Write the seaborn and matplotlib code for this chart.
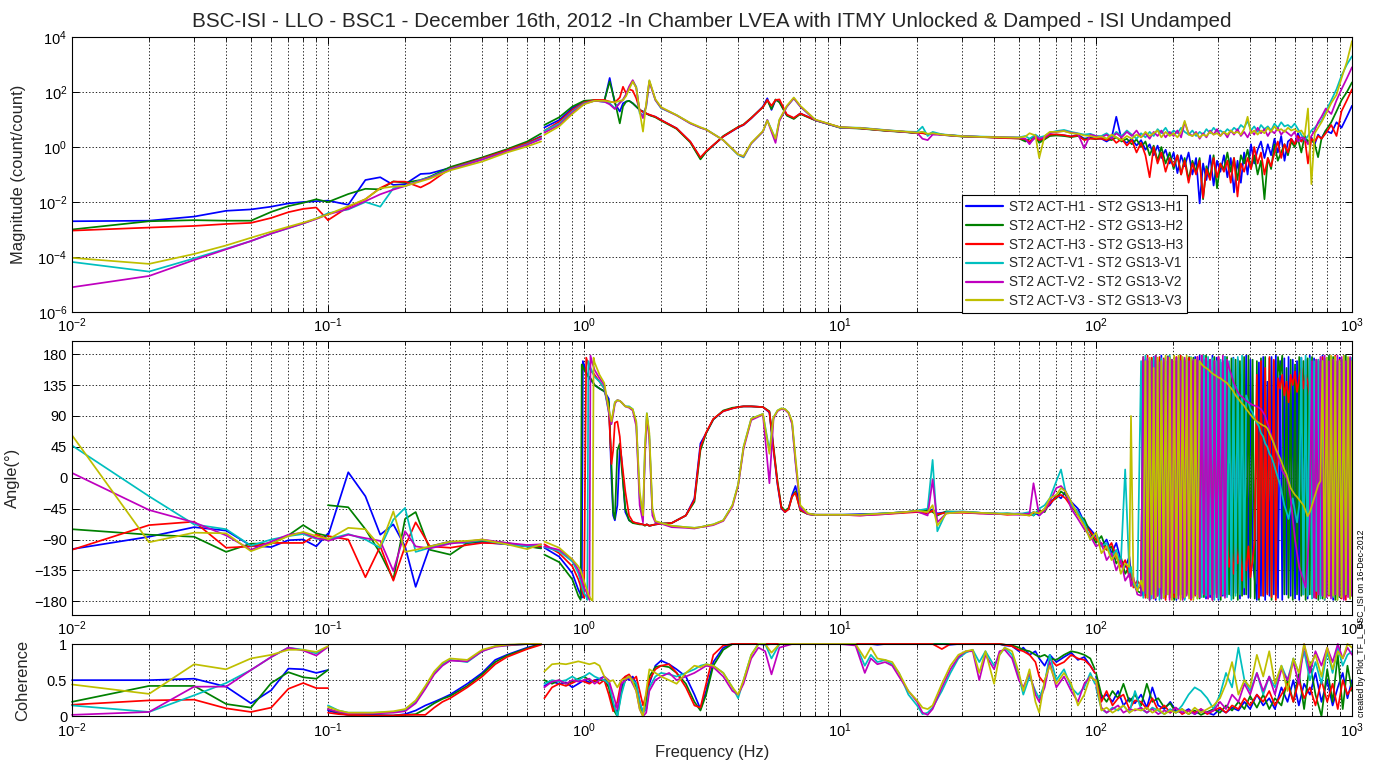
import pandas as pd
import matplotlib
matplotlib.use("Agg")
import matplotlib.pyplot as plt
from matplotlib.lines import Line2D
from matplotlib.ticker import LogLocator, NullLocator, FixedLocator, FixedFormatter
import seaborn as sns

# ---------------------------------------------------------------- series
SERIES = ["ST2 ACT-H1 - ST2 GS13-H1", "ST2 ACT-H2 - ST2 GS13-H2",
          "ST2 ACT-H3 - ST2 GS13-H3", "ST2 ACT-V1 - ST2 GS13-V1",
          "ST2 ACT-V2 - ST2 GS13-V2", "ST2 ACT-V3 - ST2 GS13-V3"]
COLORS = ["#0000ff", "#008000", "#ff0000", "#00bfbf", "#bf00bf", "#bfbf00"]

# ---------------------------------------------------------------- magnitude, log10(count/count)
MAG_F_A = [0.01, 0.02, 0.03, 0.04, 0.05, 0.06, 0.07, 0.08, 0.09, 0.1]
MAG_A_H1 = [-2.70, -2.68, -2.53, -2.32, -2.27, -2.17, -2.05, -2.00, -1.97, -1.95]
MAG_A_H2 = [-3.00, -2.70, -2.66, -2.68, -2.68, -2.36, -2.15, -2.03, -1.90, -2.00]
MAG_A_H3 = [-3.04, -2.93, -2.87, -2.80, -2.76, -2.58, -2.37, -2.25, -2.20, -2.66]
MAG_A_V1 = [-4.18, -4.53, -4.05, -3.70, -3.42, -3.15, -2.95, -2.78, -2.60, -2.41]
MAG_A_V2 = [-5.10, -4.69, -4.11, -3.72, -3.42, -3.15, -2.95, -2.78, -2.62, -2.45]
MAG_A_V3 = [-4.03, -4.25, -3.89, -3.58, -3.30, -3.08, -2.90, -2.75, -2.60, -2.45]

MAG_F_B = [0.1, 0.12, 0.14, 0.16, 0.18, 0.2, 0.23, 0.25, 0.3, 0.4, 0.5, 0.6, 0.68]
MAG_B_H1 = [-1.95, -2.10, -1.20, -1.10, -1.38, -1.35, -0.98, -0.96, -0.76, -0.40, -0.12, 0.15, 0.39]
MAG_B_H2 = [-2.00, -1.71, -1.52, -1.54, -1.25, -1.30, -1.20, -1.08, -0.73, -0.38, -0.08, 0.20, 0.49]
MAG_B_H3 = [-2.66, -2.18, -1.90, -1.49, -1.26, -1.26, -1.47, -1.30, -0.78, -0.42, -0.12, 0.14, 0.37]
MAG_B_V1 = [-2.41, -2.27, -2.00, -2.17, -1.50, -1.42, -1.20, -1.10, -0.80, -0.45, -0.16, 0.10, 0.32]
MAG_B_V2 = [-2.45, -2.25, -1.97, -1.72, -1.55, -1.42, -1.22, -1.12, -0.82, -0.46, -0.16, 0.08, 0.29]
MAG_B_V3 = [-2.45, -2.15, -1.90, -1.50, -1.44, -1.42, -1.25, -1.15, -0.85, -0.53, -0.20, 0.02, 0.20]

MAG_F_C = [0.7, 0.8, 0.9, 1.0, 1.1, 1.2, 1.26, 1.32, 1.38, 1.42, 1.46, 1.5, 1.55, 1.6, 1.65,
           1.7, 1.75, 1.8, 1.9, 2.0, 2.3, 2.6, 2.85, 3.0, 3.5, 4.0, 4.2, 4.5, 5.0, 5.2, 5.4,
           5.6, 5.8, 6.2, 6.6, 7.0, 8.0, 10.0]
MAG_C_H1 = [0.71, 0.98, 1.41, 1.65, 1.68, 1.65, 2.51, 1.59, 1.29, 1.59, 1.65, 1.68, 1.59, 1.47, 1.35,
            1.29, 1.22, 1.16, 1.10, 0.98, 0.68, 0.19, -0.41, -0.17, 0.38, 0.71, 0.80, 1.04, 1.47, 1.77,
            1.35, 1.71, 1.65, 1.16, 1.04, 1.22, 0.98, 0.71]
MAG_C_H2 = [0.80, 1.08, 1.47, 1.68, 1.71, 1.68, 2.38, 1.65, 0.86, 1.47, 1.65, 1.68, 1.59, 1.47, 1.35,
            1.29, 1.22, 1.16, 1.08, 0.96, 0.66, 0.17, -0.45, -0.18, 0.40, 0.73, 0.82, 1.06, 1.45, 1.70,
            1.38, 1.73, 1.62, 1.14, 1.02, 1.20, 0.97, 0.70]
MAG_C_H3 = [0.59, 0.92, 1.35, 1.62, 1.71, 1.71, 1.65, 1.62, 1.80, 2.19, 1.95, 2.10, 2.05, 1.77, 1.35,
            1.27, 1.22, 1.18, 1.10, 0.98, 0.68, 0.20, -0.38, -0.15, 0.38, 0.72, 0.81, 1.05, 1.45, 1.71,
            1.50, 1.71, 1.73, 1.18, 1.06, 1.22, 0.98, 0.72]
MAG_C_V1 = [0.59, 0.85, 1.29, 1.59, 1.68, 1.65, 1.59, 1.41, 1.62, 1.72, 1.89, 2.15, 2.40, 2.19, 1.22,
            1.16, 1.47, 2.40, 1.71, 1.41, 1.16, 0.86, 0.70, 0.64, 0.25, -0.29, -0.38, 0.13, 0.56, 0.98,
            0.62, 0.28, 0.98, 1.47, 1.77, 1.47, 0.98, 0.71]
MAG_C_V2 = [0.52, 0.80, 1.25, 1.57, 1.68, 1.65, 1.55, 1.38, 1.60, 1.72, 1.92, 2.20, 2.43, 2.15, 1.30,
            1.05, 1.50, 2.38, 1.71, 1.43, 1.15, 0.86, 0.70, 0.63, 0.25, -0.27, -0.35, 0.13, 0.56, 0.98,
            0.55, 0.15, 0.95, 1.47, 1.77, 1.47, 0.98, 0.71]
MAG_C_V3 = [0.44, 0.75, 1.20, 1.55, 1.68, 1.68, 1.65, 1.62, 1.68, 1.70, 1.85, 2.10, 2.38, 2.15, 1.30,
            0.56, 1.60, 2.43, 1.74, 1.45, 1.16, 0.88, 0.72, 0.64, 0.25, -0.27, -0.33, 0.15, 0.58, 0.96,
            0.62, 0.30, 1.00, 1.50, 1.80, 1.50, 1.00, 0.72]

MAG_F_D = [12, 15, 18, 20, 21, 22, 23, 25, 30, 35, 40, 45, 50, 53, 55, 58, 60, 63, 66, 70,
           75, 80, 85, 90, 95, 100]
MAG_D_H1 = [0.68, 0.60, 0.55, 0.50, 0.55, 0.45, 0.50, 0.45, 0.39, 0.37, 0.35, 0.33, 0.32, 0.25, 0.15,
            0.35, 0.20, 0.30, 0.42, 0.45, 0.42, 0.38, 0.45, 0.30, 0.35, 0.30]
MAG_D_H2 = [0.67, 0.59, 0.54, 0.50, 0.52, 0.47, 0.50, 0.44, 0.38, 0.36, 0.35, 0.33, 0.31, 0.20, 0.30,
            0.38, 0.15, 0.28, 0.40, 0.42, 0.40, 0.36, 0.40, 0.28, 0.32, 0.28]
MAG_D_H3 = [0.68, 0.60, 0.55, 0.51, 0.50, 0.46, 0.50, 0.45, 0.39, 0.37, 0.34, 0.32, 0.31, 0.28, 0.20,
            0.35, 0.25, 0.32, 0.45, 0.46, 0.43, 0.38, 0.42, 0.25, 0.30, 0.30]
MAG_D_V1 = [0.70, 0.62, 0.56, 0.55, 0.74, 0.40, 0.55, 0.46, 0.40, 0.38, 0.37, 0.36, 0.35, 0.40, 0.30,
            0.45, 0.35, 0.40, 0.52, 0.58, 0.62, 0.55, 0.50, 0.45, 0.48, 0.40]
MAG_D_V2 = [0.69, 0.61, 0.55, 0.52, 0.30, 0.25, 0.45, 0.44, 0.39, 0.37, 0.36, 0.35, 0.34, 0.30, 0.10,
            0.40, 0.30, 0.35, 0.50, 0.55, 0.58, 0.52, 0.48, -0.05, 0.45, 0.40]
MAG_D_V3 = [0.69, 0.61, 0.56, 0.52, 0.55, 0.48, 0.50, 0.45, 0.39, 0.37, 0.36, 0.35, 0.34, 0.38, 0.50,
            0.42, -0.40, 0.40, 0.55, 0.55, 0.58, 0.50, 0.48, 0.42, 0.40, 0.35]

MAG_F_E = [105, 110, 115, 120, 126, 132, 138, 144, 150, 156,
           162, 168, 174, 180, 187, 194, 201, 208, 215, 222,
           230, 238, 246, 254, 262, 270, 279, 288, 297, 306,
           316, 326, 336, 346, 357, 368, 379, 391, 403, 415,
           428, 441, 455, 469, 483, 498, 513, 529, 545, 562,
           579, 597, 615, 634, 653, 673, 694, 715, 737, 760,
           790, 830, 870, 910, 955, 1000]
MAG_E_H1 = [0.30, 0.20, 0.32, 1.10, 0.25, 0.15, 0.30, 0.05, 0.25, -0.10,
            0.10, -0.30, 0.05, -0.40, -0.10, -0.60, -0.20, -0.95, -0.30, -0.70,
            -0.20, -1.00, -0.40, -2.05, -0.60, -1.20, -0.30, -1.40, -0.50, -0.90,
            -0.30, -1.10, -0.40, -1.65, -0.50, -1.30, -0.20, -1.00, 0.10, -0.60,
            -0.10, 0.20, -0.40, 0.10, -0.30, 0.30, -0.20, 0.40, -0.50, 0.20,
            0.30, 0.10, 0.50, 0.20, 0.40, 0.15, 0.35, 0.10, 0.45, 0.30,
            0.60, 0.50, 0.90, 0.70, 1.10, 1.50]
MAG_E_H2 = [0.35, 0.30, 0.25, 0.35, 0.20, 0.30, 0.10, 0.28, 0.00, 0.20,
            -0.30, 0.05, -0.50, 0.00, -0.60, -0.20, -0.80, -0.30, -1.00, -0.40,
            -1.20, -0.50, -0.90, -0.40, -1.90, -0.70, -1.10, -0.30, -1.50, -0.60,
            -0.80, -0.20, -0.90, -0.40, -1.20, -0.30, -0.60, -0.10, -0.80, -0.30,
            -1.00, -0.50, -1.90, -0.40, -0.80, 0.10, -0.50, -0.20, 0.10, -0.30,
            0.20, 0.00, 0.30, -0.20, 0.40, 0.20, 0.30, 0.10, -0.37, 0.30,
            0.60, 0.90, 1.30, 1.70, 2.00, 2.35]
MAG_E_H3 = [0.30, 0.25, 0.35, 0.15, 0.30, 0.05, 0.25, -0.20, 0.15, -0.30,
            -1.10, 0.00, -0.60, -0.20, -0.90, -0.40, -0.70, -0.30, -1.00, -0.50,
            -1.30, -0.60, -1.00, -0.50, -1.85, -0.80, -1.20, -0.40, -1.10, -0.60,
            -0.90, -0.50, -1.30, -0.40, -1.80, -0.60, -0.90, -0.40, -0.80, 0.00,
            -0.60, -0.20, -1.00, -0.40, -0.70, -0.20, 0.20, -0.40, 0.10, -0.20,
            0.30, 0.10, 0.40, 0.20, 0.35, -0.60, 0.30, 0.20, 0.40, 0.30,
            0.50, 0.80, 0.40, 1.30, 1.70, 2.10]
MAG_E_V1 = [0.40, 0.50, 0.35, 0.55, 0.40, 0.60, 0.45, 0.30, 0.50, 0.35,
            0.55, 0.40, 0.65, 0.50, 0.70, 0.45, 0.60, 0.50, 0.70, 0.55,
            0.45, 0.60, 0.40, 0.55, 0.45, 0.65, 0.50, 0.70, 0.55, 0.60,
            0.50, 0.65, 0.55, 0.70, 0.60, 0.80, 0.70, 0.95, 0.60, 0.75,
            0.55, 0.80, 0.65, 0.75, 0.60, 0.85, 0.70, 0.90, 0.75, 0.80,
            0.70, 0.85, 0.65, 0.45, 0.25, 0.40, 0.60, 0.70, 0.85, 0.95,
            1.30, 1.70, 2.10, 2.60, 3.00, 3.30]
MAG_E_V2 = [0.35, 0.45, 0.30, 0.50, 0.35, 0.55, 0.40, 0.60, 0.35, 0.50,
            0.30, 0.55, 0.40, 0.60, 0.35, 0.55, 0.40, 0.60, 0.35, 0.90,
            0.50, 0.40, 0.55, 0.30, 0.50, 0.35, 0.60, 0.45, 0.65, 0.40,
            0.55, 0.35, 0.60, 0.45, 0.65, 0.40, 0.55, 0.35, 0.60, 0.45,
            0.70, 0.50, 0.65, 0.40, 0.60, 0.50, 0.70, 0.45, 0.60, 0.50,
            0.40, 0.55, 0.20, 0.35, 0.30, 0.10, 0.40, 0.60, 0.90, 1.10,
            1.40, 1.20, 1.70, 2.10, 2.50, 2.90]
MAG_E_V3 = [0.38, 0.30, 0.45, 0.35, 0.25, 0.40, 0.30, 0.45, 0.35, 0.55,
            0.40, 0.50, 0.60, 0.35, 0.55, 0.40, 0.50, 0.35, 0.55, 0.95,
            0.45, 0.40, 0.50, 0.35, 0.45, 0.40, 0.55, 0.45, 0.50, 0.40,
            0.55, 0.45, 0.60, 0.50, 0.55, 0.45, 0.65, 1.10, 0.50, 0.60,
            0.45, 0.60, 0.50, 0.70, 0.55, 0.75, 0.60, 0.65, 0.55, 0.70,
            0.60, 0.65, 0.55, 0.60, 0.40, 1.40, -1.35, 0.50, 0.70, 0.90,
            1.20, 1.60, 1.90, 2.50, 3.10, 3.85]

# ---------------------------------------------------------------- phase, degrees
PH_F_A = [0.01, 0.02, 0.03, 0.04, 0.05, 0.06, 0.07, 0.08, 0.09, 0.1]
PH_A_H1 = [-104, -86, -72, -77, -99, -101, -91, -90, -100, -81]
PH_A_H2 = [-75, -83, -86, -108, -96, -96, -84, -69, -81, -85]
PH_A_H3 = [-105, -69, -64, -102, -100, -95, -95, -95, -83, -89]
PH_A_V1 = [47, -27, -68, -75, -99, -90, -85, -82, -89, -90]
PH_A_V2 = [7, -47, -65, -84, -105, -93, -83, -80, -88, -91]
PH_A_V3 = [62, -94, -80, -81, -107, -96, -85, -79, -85, -89]

PH_F_B = [0.1, 0.12, 0.14, 0.16, 0.18, 0.2, 0.22, 0.25, 0.3, 0.35, 0.4, 0.5, 0.6, 0.68]
PH_B_H1 = [-85, 8, -27, -83, -68, -100, -159, -100, -93, -95, -94, -97, -100, -102]
PH_B_H2 = [-40, -43, -75, -110, -148, -60, -50, -105, -112, -95, -92, -95, -100, -103]
PH_B_H3 = [-85, -90, -145, -100, -150, -100, -65, -100, -102, -98, -95, -96, -100, -100]
PH_B_V1 = [-90, -82, -90, -102, -61, -44, -108, -102, -95, -94, -91, -97, -100, -98]
PH_B_V2 = [-92, -83, -88, -92, -136, -78, -100, -103, -96, -93, -90, -95, -98, -97]
PH_B_V3 = [-90, -73, -75, -100, -49, -108, -105, -100, -93, -92, -90, -97, -104, -97]

PH_F_C = [0.7, 0.8, 0.9, 0.95, 0.97, 0.98, 0.99, 1.0, 1.02, 1.03, 1.04, 1.05, 1.06, 1.07, 1.08,
          1.09, 1.1, 1.15, 1.2, 1.25, 1.28, 1.3, 1.32, 1.35, 1.38, 1.4, 1.45, 1.5, 1.55, 1.6,
          1.65, 1.7, 1.73, 1.76, 1.8, 1.85, 1.9, 2.0, 2.2, 2.5, 2.7, 2.85, 3.0, 3.2, 3.5,
          3.8, 4.0, 4.2, 4.5, 5.0, 5.3, 5.5, 5.7, 5.9, 6.1, 6.3, 6.5, 6.7, 7.0, 7.5, 8.0, 10.0]
PH_C_H1 = [-102, -115, -139, -163, -170, -175, 170, 165, 155, 150, 147, 145, 143, 141, 139,
           137, 135, 130, 126, 115, 0, -55, -62, -40, 45, 30, -50, -62, -65, -66,
           -67, -68, -69, -68, -70, -69, -68, -67, -66, -55, -30, 50, 65, 85, 97,
           101, 103, 104, 104, 103, 95, 40, -10, -45, -50, -45, -25, -12, -45, -53, -54, -54]
PH_C_H2 = [-112, -123, -148, -172, -178, 165, 162, 158, 152, 150, 148, 147, 145, 143, 140,
           138, 135, 130, 126, 110, 20, -50, -60, 40, 50, 20, -45, -62, -66, -67,
           -68, -68, -70, -68, -70, -69, -68, -67, -66, -55, -35, 40, 65, 85, 98,
           102, 103, 104, 104, 103, 97, 45, -5, -42, -48, -44, -28, -20, -48, -53, -54, -54]
PH_C_H3 = [-97, -110, -129, -148, -158, -163, -168, -175, 175, 170, 165, 160, 157, 155, 153,
           152, 150, 140, 130, 100, 20, 40, 80, 82, 60, 30, -20, -55, -64, -66,
           -67, -68, -69, -68, -70, -69, -68, -67, -66, -55, -32, 45, 66, 86, 97,
           101, 103, 104, 104, 103, 96, 42, -8, -44, -50, -46, -27, -22, -47, -53, -54, -54]
PH_C_V1 = [-101, -107, -122, -139, -150, -157, -163, -168, -173, -178, 170, 165, 160, 157, 153,
           150, 147, 140, 130, 95, 80, 95, 110, 113, 112, 110, 104, 104, 100, 80,
           -30, -60, 40, 94, 60, -50, -64, -66, -70, -72, -73, -72, -70, -68, -62,
           -40, -10, 45, 86, 93, 40, 88, 98, 101, 100, 95, 80, 25, -42, -52, -54, -54]
PH_C_V2 = [-100, -105, -119, -134, -145, -150, -155, -160, -166, -170, -174, -178, 178, 172, 166,
           162, 157, 145, 135, 95, 78, 92, 108, 113, 112, 110, 104, 102, 98, 75,
           -40, -65, 30, 90, 55, -55, -65, -67, -72, -73, -74, -72, -71, -69, -63,
           -42, -12, 42, 84, 92, -8, 86, 97, 100, 99, 94, 78, 22, -44, -53, -54, -54]
PH_C_V3 = [-93, -102, -119, -129, -135, -140, -145, -150, -160, -165, -170, -173, -176, -178, -179,
           175, 168, 150, 138, 100, 82, 96, 110, 113, 112, 110, 104, 103, 100, 82,
           -20, -55, 45, 94, 65, -45, -63, -66, -70, -72, -73, -72, -70, -68, -62,
           -40, -10, 45, 86, 93, 35, 88, 98, 101, 100, 95, 82, 30, -40, -52, -54, -54]

PH_F_D = [12, 15, 18, 20, 22, 23, 24, 26, 30, 35, 40, 45, 50, 55, 57, 60, 63, 66, 70, 73,
          76, 80, 85, 90, 95, 100, 105, 110, 115, 120, 125, 130, 135, 137, 140, 145]
PH_D_H1 = [-53, -52, -50, -48, -49, -46, -52, -50, -50, -51, -52, -53, -52, -54, -50, -55, -45, -40,
           -25, -30, -20, -35, -45, -65, -75, -85, -100, -90, -110, -95, -120, -130, -115, -140,
           -150, -160]
PH_D_H2 = [-54, -52, -50, -49, -47, -50, -55, -49, -50, -51, -53, -52, -53, -52, -55, -48, -50, -35,
           -30, -20, -25, -40, -55, -60, -80, -95, -85, -105, -100, -125, -115, -140, -130, -145,
           -155, -165]
PH_D_H3 = [-55, -53, -51, -50, -52, -48, -53, -51, -51, -52, -52, -54, -53, -55, -52, -50, -47, -38,
           -28, -25, -30, -42, -50, -70, -78, -90, -95, -105, -95, -115, -130, -120, -145, -135,
           -160, -150]
PH_D_V1 = [-54, -52, -50, -48, -45, 26, -78, -50, -49, -51, -52, -52, -53, -50, -55, -45, -40, -30,
           -5, 12, -20, -40, -50, -65, -90, -80, -100, -95, -115, -105, -125, 12, -140, -130,
           -155, -165]
PH_D_V2 = [-55, -53, -50, -49, -55, -3, -65, -52, -50, -52, -53, -53, -54, -52, -8, -55, -48, -35,
           -15, -12, -20, -45, -60, -75, -85, -100, -95, -120, -110, -135, -120, -150, -140, -158,
           -145, -170]
PH_D_V3 = [-54, -52, -50, -48, -50, -40, -70, -52, -50, -51, -52, -53, -53, -55, -50, -52, -45, -30,
           -25, -15, -20, -35, -55, -70, -90, -80, -110, -100, -120, -110, -140, -125, -130, 90,
           -150, -165]

PH_F_E = [150, 153, 156, 159, 162, 165, 168, 171, 174, 177,
          180, 184, 187, 191, 194, 198, 202, 206, 210, 214,
          218, 222, 226, 231, 235, 240, 244, 249, 254, 259,
          264, 269, 274, 279, 285, 290, 296, 301, 307, 313,
          319, 325, 331, 338, 344, 351, 358, 365, 372, 379,
          386, 394, 401, 409, 417, 425, 433, 441, 450, 458,
          467, 476, 485, 495, 504, 514, 524, 534, 544, 555,
          565, 576, 587, 599, 610, 622, 634, 646, 659, 671,
          684, 698, 711, 725, 739, 753, 767, 782, 797, 813,
          828, 844, 860, 877, 894, 911, 929, 946, 965, 983, 1000]
PH_E_H1 = [-160, -172, 172, -175, 170, -168, 176, -178, 165, -170,
           178, -175, 170, -165, 176, -172, 168, -178, 175, -170,
           172, -176, 174, -170, 170, -175, 176, -170, 178, -168,
           172, -176, 170, -174, 178, -170, 175, -178, 168, -172,
           176, -170, 20, -172, 175, -168, 172, -176, 150, -170,
           178, -175, 172, -120, -150, -178, 168, -172, 176, -178,
           140, -172, 176, -170, 178, -175, 170, -178, 174, -170,
           176, -172, 172, -176, 170, -178, 175, -170, 172, -176,
           178, -170, 174, -176, 170, -172, 178, -175, 172, -170,
           176, -178, 170, -174, 175, -170, 178, -172, 174, -176, 170]
PH_E_H2 = [-168, 176, -172, 170, -178, 174, -165, 178, -170, 172,
           -176, 168, -174, 177, -168, 172, -178, 170, -172, 178,
           -175, 170, -168, 176, -172, 175, -170, 172, -176, 168,
           -174, 178, -170, 172, -175, 176, -168, 174, -178, 170,
           -172, 176, -170, 174, -176, 172, -178, 170, -172, 176,
           -170, 178, -174, 172, -176, 170, -178, 174, -172, 176,
           -168, 174, -178, 170, -172, 176, 150, 178, -170, 160,
           -175, 172, -178, 165, -170, 176, -172, 170, -178, 174,
           -170, 176, -174, 172, -178, 170, -176, 174, -170, 178,
           -172, 176, -178, 170, -174, 172, -176, 178, -170, 174, -172]
PH_E_H3 = [-158, 172, -175, 178, -170, 175, -176, 170, -172, 176,
           -168, 174, -178, 172, -175, 170, -174, 176, -170, 178,
           -176, 172, -170, 175, -178, 170, -172, 176, -174, 178,
           -170, 174, -176, 172, -178, 170, -174, 176, -172, -120,
           -100, -90, -130, -110, -140, -95, -125, -105, -150, -115,
           -135, -100, -145, -120, -90, 150, -175, 170, -172, 160,
           -170, 176, -174, 172, -178, 145, 130, 150, 120, 140,
           110, 150, 135, 155, 125, 145, 160, 130, 150, 140,
           120, 155, 135, -175, 172, -170, 176, -178, 170, -172,
           176, -174, 178, -170, 172, -176, 174, -178, 170, -172, 170]
PH_E_V1 = [170, -175, 178, -170, 172, -176, 175, -168, 170, -178,
           174, -172, 176, -170, 178, -175, 170, -176, 172, -170,
           175, -178, 168, -172, 176, -170, 172, -176, 170, -174,
           178, -172, 176, -170, 174, -178, 170, -176, 172, -170,
           176, -174, 170, -178, 174, -172, 176, -170, 178, -160,
           120, 110, 100, 95, 85, 80, 75, 65, 60, 50,
           45, 35, 30, 20, 10, 0, -10, -25, -40, -50,
           -60, -45, -30, -50, -65, -40, 175, -170, 178, -172,
           174, -176, 170, -165, 172, -176, 170, -178, 175, -170,
           176, -174, 172, -178, 170, -172, 176, -170, 174, -176, 175]
PH_E_V2 = [-172, 176, -168, 174, -178, 170, -175, 178, -172, 168,
           -176, 172, -170, 176, -178, 172, -168, 175, -176, 170,
           -178, 175, -172, 170, -176, 172, -170, 176, -174, 178,
           -170, 174, -176, 172, -178, 170, -174, 176, -172, 178,
           -175, 172, 160, 150, 140, 132, 125, 120, 118, 115,
           112, 110, 108, 106, 105, 104, 102, 100, 95, 90,
           80, 70, 60, 50, 40, 30, 20, 10, 5, 0,
           -10, -30, -60, -90, -110, -130, -140, -150, -160, -120,
           -60, 170, -175, 172, -170, 176, -172, 178, -174, 170,
           -176, 172, -170, 178, -172, 176, -178, 170, -174, 176, -172]
PH_E_V3 = [-150, -165, 170, -175, 175, -170, 160, -175, 175, -160,
           170, -175, 178, -170, 175, -178, 178, -175, 178, -178,
           176, -174, 178, -176, 175, -178, 172, -176, 170, 165,
           162, 160, 158, 155, 152, 150, 148, 146, 145, 142,
           140, 138, 134, 130, 126, 120, 116, 112, 108, 105,
           100, 96, 92, 88, 85, 82, 80, 78, 76, 75,
           72, 65, 58, 50, 42, 35, 28, 20, 12, 5,
           -5, -15, -20, -25, -28, -32, -36, -40, -48, -56,
           -50, -40, -30, -20, -10, -5, 170, -175, 175, -170,
           178, -172, 176, -178, 170, -174, 178, -170, 176, -176, 170]

# ---------------------------------------------------------------- coherence
COH_F_A = [0.01, 0.02, 0.03, 0.04, 0.05, 0.06, 0.07, 0.08, 0.09, 0.1]
COH_A_H1 = [0.50, 0.50, 0.52, 0.41, 0.18, 0.36, 0.66, 0.65, 0.60, 0.64]
COH_A_H2 = [0.20, 0.42, 0.42, 0.17, 0.12, 0.46, 0.61, 0.54, 0.52, 0.64]
COH_A_H3 = [0.16, 0.22, 0.23, 0.11, 0.06, 0.12, 0.38, 0.46, 0.39, 0.39]
COH_A_V1 = [0.15, 0.06, 0.29, 0.46, 0.64, 0.82, 0.95, 0.92, 0.87, 0.96]
COH_A_V2 = [0.02, 0.06, 0.41, 0.41, 0.64, 0.82, 0.95, 0.91, 0.84, 0.96]
COH_A_V3 = [0.44, 0.31, 0.72, 0.65, 0.80, 0.85, 0.92, 0.92, 0.89, 0.97]

COH_F_B = [0.1, 0.11, 0.12, 0.15, 0.18, 0.2, 0.22, 0.24, 0.26, 0.28, 0.3, 0.35, 0.4, 0.45, 0.5,
           0.6, 0.68]
COH_B_H1 = [0.08, 0.04, 0.02, 0.02, 0.01, 0.03, 0.08, 0.15, 0.20, 0.25, 0.30, 0.45, 0.60, 0.78, 0.85, 0.95, 1.00]
COH_B_H2 = [0.10, 0.05, 0.02, 0.01, 0.01, 0.02, 0.03, 0.10, 0.18, 0.24, 0.28, 0.42, 0.58, 0.75, 0.84, 0.94, 1.00]
COH_B_H3 = [0.05, 0.03, 0.02, 0.01, 0.01, 0.02, 0.02, 0.02, 0.12, 0.20, 0.25, 0.40, 0.55, 0.72, 0.82, 0.93, 0.99]
COH_B_V1 = [0.15, 0.08, 0.05, 0.05, 0.06, 0.08, 0.20, 0.40, 0.60, 0.72, 0.78, 0.75, 0.90, 0.97, 0.98, 1.00, 1.00]
COH_B_V2 = [0.10, 0.06, 0.04, 0.04, 0.05, 0.07, 0.18, 0.38, 0.58, 0.70, 0.77, 0.76, 0.90, 0.96, 0.98, 1.00, 1.00]
COH_B_V3 = [0.13, 0.08, 0.05, 0.05, 0.07, 0.10, 0.22, 0.42, 0.62, 0.74, 0.80, 0.78, 0.92, 0.97, 0.99, 1.00, 1.00]

COH_F_C = [0.7, 0.75, 0.8, 0.85, 0.9, 0.95, 1.0, 1.05, 1.1, 1.15, 1.2, 1.25, 1.3, 1.35, 1.4,
           1.45, 1.5, 1.55, 1.6, 1.65, 1.7, 1.75, 1.8, 1.9, 2.0, 2.15, 2.3, 2.5, 2.7, 2.85,
           3.0, 3.2, 3.5, 3.8, 4.0, 4.2, 4.5, 4.8, 5.1, 5.4, 5.8, 6.5, 8.0, 10, 11.5,
           12.5, 13.2, 14, 15, 16, 17, 18.5, 20, 21, 22, 23, 25, 27, 29, 31,
           33, 35, 37, 40, 42, 44, 47, 50, 52, 55, 58, 60, 63, 66, 70,
           75, 80, 85, 90, 95, 99]
COH_C_H1 = [0.42, 0.48, 0.45, 0.47, 0.40, 0.45, 0.50, 0.47, 0.50, 0.52, 0.55, 0.45, 0.15, 0.05, 0.40,
            0.55, 0.50, 0.55, 0.45, 0.20, 0.05, 0.10, 0.45, 0.70, 0.77, 0.72, 0.65, 0.55, 0.30, 0.10,
            0.35, 0.75, 0.95, 1.00, 1.00, 1.00, 1.00, 1.00, 0.99, 1.00, 1.00, 1.00, 1.00, 1.00, 1.00,
            1.00, 1.00, 0.99, 1.00, 1.00, 1.00, 1.00, 1.00, 1.00, 1.00, 1.00, 1.00, 0.99, 1.00, 1.00,
            1.00, 1.00, 1.00, 1.00, 1.00, 0.98, 0.97, 0.90, 0.95, 0.85, 0.90, 0.80, 0.70, 0.85, 0.75,
            0.82, 0.88, 0.78, 0.82, 0.70, 0.60]
COH_C_H2 = [0.50, 0.45, 0.50, 0.45, 0.48, 0.52, 0.55, 0.50, 0.48, 0.50, 0.50, 0.40, 0.10, 0.00, 0.35,
            0.50, 0.55, 0.50, 0.40, 0.15, 0.05, 0.20, 0.55, 0.68, 0.70, 0.68, 0.60, 0.45, 0.20, 0.08,
            0.30, 0.70, 0.92, 1.00, 1.00, 1.00, 1.00, 1.00, 1.00, 1.00, 1.00, 1.00, 1.00, 1.00, 1.00,
            1.00, 1.00, 1.00, 1.00, 1.00, 1.00, 1.00, 1.00, 1.00, 1.00, 1.00, 1.00, 1.00, 1.00, 1.00,
            1.00, 1.00, 1.00, 1.00, 1.00, 0.99, 0.98, 0.95, 0.92, 0.90, 0.85, 0.82, 0.85, 0.80, 0.78,
            0.85, 0.90, 0.88, 0.85, 0.80, 0.65]
COH_C_H3 = [0.25, 0.40, 0.45, 0.42, 0.46, 0.50, 0.48, 0.45, 0.50, 0.45, 0.50, 0.30, 0.07, 0.20, 0.50,
            0.55, 0.58, 0.50, 0.55, 0.35, 0.15, 0.30, 0.50, 0.65, 0.70, 0.72, 0.60, 0.40, 0.15, 0.12,
            0.45, 0.85, 0.98, 1.00, 1.00, 1.00, 1.00, 1.00, 1.00, 1.00, 1.00, 1.00, 1.00, 1.00, 1.00,
            1.00, 1.00, 1.00, 1.00, 1.00, 1.00, 1.00, 1.00, 1.00, 1.00, 1.00, 0.93, 1.00, 1.00, 1.00,
            1.00, 1.00, 1.00, 1.00, 1.00, 0.99, 0.97, 0.92, 0.90, 0.85, 0.75, 0.55, 0.45, 0.80, 0.70,
            0.75, 0.85, 0.80, 0.78, 0.70, 0.60]
COH_C_V1 = [0.45, 0.50, 0.48, 0.50, 0.55, 0.50, 0.55, 0.60, 0.55, 0.52, 0.50, 0.45, 0.20, 0.00, 0.30,
            0.50, 0.55, 0.50, 0.45, 0.20, 0.05, 0.10, 0.40, 0.55, 0.60, 0.58, 0.55, 0.60, 0.65, 0.70,
            0.72, 0.70, 0.60, 0.40, 0.25, 0.50, 0.85, 1.00, 1.00, 0.80, 1.00, 1.00, 1.00, 1.00, 1.00,
            0.70, 0.85, 0.75, 0.78, 0.72, 0.60, 0.30, 0.15, 0.03, 0.05, 0.12, 0.35, 0.60, 0.80, 0.88,
            0.92, 0.75, 0.90, 0.70, 0.85, 0.95, 0.85, 0.55, 0.30, 0.55, 0.35, 0.25, 0.45, 0.85, 0.50,
            0.65, 0.40, 0.30, 0.40, 0.60, 0.45]
COH_C_V2 = [0.40, 0.48, 0.50, 0.45, 0.50, 0.48, 0.50, 0.52, 0.45, 0.50, 0.55, 0.50, 0.30, 0.10, 0.45,
            0.50, 0.55, 0.45, 0.35, 0.10, 0.00, 0.05, 0.35, 0.50, 0.55, 0.60, 0.50, 0.55, 0.60, 0.65,
            0.70, 0.68, 0.55, 0.35, 0.30, 0.45, 0.80, 0.95, 0.90, 0.58, 0.95, 1.00, 1.00, 1.00, 0.98,
            0.60, 0.80, 0.72, 0.75, 0.70, 0.55, 0.35, 0.20, 0.05, 0.02, 0.10, 0.40, 0.65, 0.82, 0.90,
            0.90, 0.50, 0.85, 0.65, 0.90, 0.92, 0.80, 0.50, 0.40, 0.60, 0.30, 0.20, 0.40, 0.75, 0.40,
            0.55, 0.35, 0.20, 0.45, 0.55, 0.50]
COH_C_V3 = [0.62, 0.72, 0.73, 0.72, 0.74, 0.76, 0.74, 0.72, 0.74, 0.70, 0.55, 0.48, 0.50, 0.40, 0.50,
            0.52, 0.55, 0.48, 0.35, 0.10, 0.00, 0.35, 0.65, 0.60, 0.55, 0.50, 0.45, 0.60, 0.70, 0.68,
            0.72, 0.70, 0.60, 0.40, 0.30, 0.50, 0.85, 1.00, 1.00, 0.88, 1.00, 1.00, 1.00, 1.00, 1.00,
            0.80, 0.95, 0.80, 0.78, 0.75, 0.60, 0.35, 0.22, 0.12, 0.10, 0.15, 0.45, 0.70, 0.85, 0.90,
            0.92, 0.60, 0.90, 0.45, 0.85, 0.95, 0.90, 0.60, 0.35, 0.65, 0.20, 0.05, 0.50, 0.70, 0.45,
            0.60, 0.45, 0.15, 0.30, 0.55, 0.50]

COH_F_D = [100, 105, 110, 116, 122, 128, 135, 142, 150, 158, 166, 175, 185, 195, 205, 217, 230,
           243, 257, 272, 288, 305, 322, 340, 360, 380, 400, 425, 450, 475, 500, 530, 560, 590,
           620, 650, 685, 720, 760, 800, 840, 880, 920, 960, 1000]
COH_D_H1 = [0.55, 0.25, 0.30, 0.20, 0.35, 0.15, 0.25, 0.18, 0.30, 0.12, 0.40, 0.15, 0.10, 0.20, 0.08,
            0.05, 0.10, 0.03, 0.08, 0.05, 0.02, 0.10, 0.05, 0.12, 0.08, 0.20, 0.10, 0.30, 0.15, 0.25,
            0.10, 0.40, 0.20, 0.50, 0.15, 0.45, 0.30, 0.60, 0.20, 0.50, 0.15, 0.40, 0.60, 0.25, 0.50]
COH_D_H2 = [0.60, 0.30, 0.20, 0.35, 0.25, 0.45, 0.20, 0.30, 0.15, 0.45, 0.20, 0.25, 0.12, 0.18, 0.05,
            0.10, 0.03, 0.08, 0.02, 0.06, 0.10, 0.05, 0.15, 0.08, 0.20, 0.10, 0.28, 0.12, 0.30, 0.10,
            0.25, 0.15, 0.50, 0.20, 0.60, 0.10, 0.75, 0.30, 0.00, 0.65, 0.20, 0.85, 0.10, 0.70, 0.35]
COH_D_H3 = [0.50, 0.20, 0.35, 0.15, 0.25, 0.30, 0.10, 0.22, 0.20, 0.10, 0.25, 0.08, 0.15, 0.05, 0.12,
            0.03, 0.08, 0.05, 0.10, 0.03, 0.08, 0.12, 0.05, 0.15, 0.10, 0.25, 0.15, 0.30, 0.20, 0.35,
            0.15, 0.30, 0.45, 0.20, 0.50, 0.25, 0.40, 0.15, 0.50, 0.20, 0.45, 0.10, 0.50, 0.30, 0.40]
COH_D_V1 = [0.40, 0.10, 0.05, 0.12, 0.08, 0.15, 0.05, 0.35, 0.10, 0.05, 0.12, 0.08, 0.03, 0.10, 0.05,
            0.15, 0.30, 0.40, 0.35, 0.25, 0.10, 0.30, 0.60, 0.40, 0.95, 0.50, 0.35, 0.60, 0.30, 0.55,
            0.40, 0.70, 0.50, 0.80, 0.60, 0.90, 0.50, 0.75, 0.45, 0.90, 0.60, 0.95, 0.70, 0.85, 0.90]
COH_D_V2 = [0.45, 0.12, 0.05, 0.10, 0.15, 0.05, 0.10, 0.08, 0.12, 0.05, 0.10, 0.03, 0.08, 0.05, 0.12,
            0.05, 0.08, 0.03, 0.10, 0.05, 0.08, 0.20, 0.10, 0.30, 0.20, 0.45, 0.30, 0.60, 0.35, 0.55,
            0.30, 0.65, 0.50, 0.75, 0.45, 1.00, 0.60, 0.90, 0.70, 0.95, 0.75, 1.00, 0.80, 0.95, 0.85]
COH_D_V3 = [0.50, 0.08, 0.12, 0.05, 0.10, 0.15, 0.05, 0.10, 0.08, 0.12, 0.05, 0.10, 0.03, 0.08, 0.05,
            0.10, 0.03, 0.12, 0.05, 0.10, 0.15, 0.25, 0.45, 0.75, 0.30, 0.50, 0.40, 0.85, 0.55, 0.90,
            0.45, 0.70, 0.35, 0.80, 0.60, 1.00, 0.70, 0.85, 0.55, 0.95, 0.65, 0.90, 0.80, 1.00, 0.95]

TITLE = ("BSC-ISI - LLO - BSC1 - December 16th, 2012 -In Chamber LVEA with ITMY "
         "Unlocked & Damped - ISI Undamped")
STAMP = "created by Plot_TF_L_BSC_ISI on 16-Dec-2012"


# ---------------------------------------------------------------- helpers
def long_frame(pieces, transform=None):
    """pieces: list of (frequencies, [values per series]); each piece is its own line."""
    rows = []
    for seg, (freqs, per_series) in enumerate(pieces):
        for name, values in zip(SERIES, per_series):
            for f, v in zip(freqs, values):
                rows.append({"series": name, "segment": seg, "freq": f,
                             "value": transform(v) if transform else v})
    return pd.DataFrame(rows)


def draw(ax, df, **kw):
    sns.lineplot(data=df, x="freq", y="value", hue="series", units="segment",
                 estimator=None, sort=False, hue_order=SERIES,
                 palette=dict(zip(SERIES, COLORS)), legend=False,
                 linewidth=1.25, ax=ax, **kw)


def style_axis(ax):
    ax.set_xscale("log")
    ax.set_xlim(1e-2, 1e3)
    ax.xaxis.set_major_locator(FixedLocator([1e-2, 1e-1, 1e0, 1e1, 1e2, 1e3]))
    ax.xaxis.set_minor_locator(LogLocator(base=10, subs=range(2, 10), numticks=20))
    grid_kw = dict(color="black", linestyle=(0, (1.6, 2.4)), linewidth=0.6)
    ax.grid(True, which="major", axis="both", **grid_kw)
    ax.grid(True, which="minor", axis="x", **grid_kw)
    ax.tick_params(which="both", direction="in", top=True, right=True,
                   labelsize=10.5, colors="black")
    ax.tick_params(which="major", length=5, width=0.7)
    ax.tick_params(which="minor", length=3, width=0.6)
    for s in ax.spines.values():
        s.set_color("black")
        s.set_linewidth(0.8)
    ax.set_xlabel("")
    ax.set_facecolor("white")


# ---------------------------------------------------------------- figure
sns.set_theme(style="ticks")
plt.rcParams["font.family"] = ["Liberation Sans", "DejaVu Sans"]
plt.rcParams["mathtext.fontset"] = "custom"
plt.rcParams["mathtext.rm"] = "Liberation Sans"
plt.rcParams["mathtext.it"] = "Liberation Sans:italic"
plt.rcParams["mathtext.bf"] = "Liberation Sans:bold"
plt.rcParams["axes.axisbelow"] = True

W, H = 1395, 765
fig = plt.figure(figsize=(W / 100, H / 100), dpi=100)
fig.patch.set_facecolor("white")


def box(x0, y0, x1, y1):
    return [x0 / W, 1 - y1 / H, (x1 - x0) / W, (y1 - y0) / H]


ax_mag = fig.add_axes(box(72, 37, 1352, 312))
ax_ph = fig.add_axes(box(72, 340.5, 1352, 615))
ax_coh = fig.add_axes(box(72, 644, 1352, 716.3))

# magnitude
mag_df = long_frame([
    (MAG_F_A, [MAG_A_H1, MAG_A_H2, MAG_A_H3, MAG_A_V1, MAG_A_V2, MAG_A_V3]),
    (MAG_F_B, [MAG_B_H1, MAG_B_H2, MAG_B_H3, MAG_B_V1, MAG_B_V2, MAG_B_V3]),
    (MAG_F_C + MAG_F_D + MAG_F_E,
     [MAG_C_H1 + MAG_D_H1 + MAG_E_H1, MAG_C_H2 + MAG_D_H2 + MAG_E_H2,
      MAG_C_H3 + MAG_D_H3 + MAG_E_H3, MAG_C_V1 + MAG_D_V1 + MAG_E_V1,
      MAG_C_V2 + MAG_D_V2 + MAG_E_V2, MAG_C_V3 + MAG_D_V3 + MAG_E_V3]),
], transform=lambda v: 10.0 ** v)
ax_mag.set_xscale("log")
ax_mag.set_yscale("log")
draw(ax_mag, mag_df)
style_axis(ax_mag)
ax_mag.set_ylim(1e-6, 1e4)
ax_mag.yaxis.set_major_locator(FixedLocator([1e-6, 1e-4, 1e-2, 1e0, 1e2, 1e4]))
ax_mag.yaxis.set_minor_locator(NullLocator())
ax_mag.set_ylabel("Magnitude (count/count)", fontsize=11.9)
ax_mag.yaxis.set_label_coords(-0.036, 0.5)
ax_mag.set_title(TITLE, fontsize=14.9, pad=7)

handles = [Line2D([], [], color=c, lw=1.6) for c in COLORS]
leg = ax_mag.legend(handles, SERIES, loc="upper left", bbox_to_anchor=(0.695, 0.4255),
                    borderaxespad=0, fontsize=9.8, frameon=True, fancybox=False,
                    framealpha=1, edgecolor="black", handlelength=2.7,
                    handletextpad=0.4, labelspacing=0.36, borderpad=0.35)
leg.get_frame().set_linewidth(0.8)

# phase
ph_df = long_frame([
    (PH_F_A, [PH_A_H1, PH_A_H2, PH_A_H3, PH_A_V1, PH_A_V2, PH_A_V3]),
    (PH_F_B, [PH_B_H1, PH_B_H2, PH_B_H3, PH_B_V1, PH_B_V2, PH_B_V3]),
    (PH_F_C + PH_F_D + PH_F_E,
     [PH_C_H1 + PH_D_H1 + PH_E_H1, PH_C_H2 + PH_D_H2 + PH_E_H2,
      PH_C_H3 + PH_D_H3 + PH_E_H3, PH_C_V1 + PH_D_V1 + PH_E_V1,
      PH_C_V2 + PH_D_V2 + PH_E_V2, PH_C_V3 + PH_D_V3 + PH_E_V3]),
])
ax_ph.set_xscale("log")
draw(ax_ph, ph_df)
style_axis(ax_ph)
ax_ph.set_ylim(-200, 200)
ax_ph.yaxis.set_major_locator(FixedLocator(list(range(-180, 181, 45))))
ax_ph.yaxis.set_minor_locator(NullLocator())
ax_ph.set_ylabel("Angle(°)", fontsize=11.9)
ax_ph.yaxis.set_label_coords(-0.041, 0.5)

# coherence
coh_df = long_frame([
    (COH_F_A, [COH_A_H1, COH_A_H2, COH_A_H3, COH_A_V1, COH_A_V2, COH_A_V3]),
    (COH_F_B, [COH_B_H1, COH_B_H2, COH_B_H3, COH_B_V1, COH_B_V2, COH_B_V3]),
    (COH_F_C, [COH_C_H1, COH_C_H2, COH_C_H3, COH_C_V1, COH_C_V2, COH_C_V3]),
    (COH_F_D, [COH_D_H1, COH_D_H2, COH_D_H3, COH_D_V1, COH_D_V2, COH_D_V3]),
])
ax_coh.set_xscale("log")
draw(ax_coh, coh_df, clip_on=False)
style_axis(ax_coh)
ax_coh.set_ylim(0, 1)
ax_coh.yaxis.set_major_locator(FixedLocator([0, 0.5, 1]))
ax_coh.yaxis.set_major_formatter(FixedFormatter(["0", "0.5", "1"]))
ax_coh.yaxis.set_minor_locator(NullLocator())
ax_coh.set_ylabel("Coherence", fontsize=11.9)
ax_coh.yaxis.set_label_coords(-0.033, 0.5)
ax_coh.set_xlabel("Frequency (Hz)", fontsize=11.9, labelpad=4)

fig.text(1361 / W, 1 - 717 / H, STAMP, rotation=90, fontsize=6.3,
         ha="center", va="bottom", color="black")

fig.savefig("out.png", dpi=100, facecolor="white")
